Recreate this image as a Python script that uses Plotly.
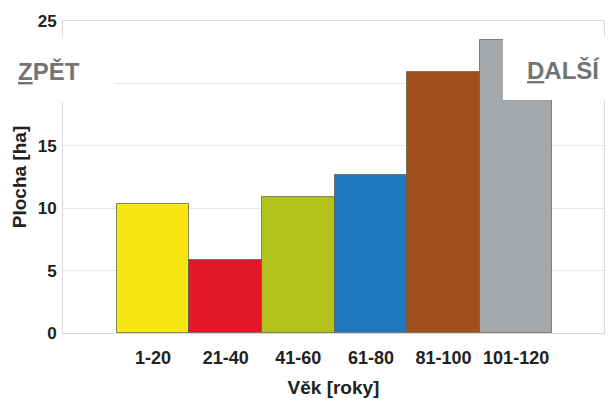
import plotly.graph_objects as go

categories = ["1-20", "21-40", "41-60", "61-80", "81-100", "101-120"]
values = [10.3, 5.85, 10.9, 12.7, 20.9, 23.5]
colors = ["#F7E614", "#E3172A", "#B3C21B", "#1D78BE", "#A24F1E", "#A5A8AB"]
y_ticks = [0, 5, 10, 15, 20, 25]
y_ticktext = ["0", "5", "10", "15", "", "25"]

FONT = "Liberation Sans, Arial, sans-serif"

fig = go.Figure()
fig.add_trace(go.Bar(
    x=categories, y=values,
    marker=dict(color=colors, line=dict(color="rgba(90,90,70,0.7)", width=1)),
    width=1.0,
))

fig.update_layout(
    width=608, height=401,
    margin=dict(l=63, r=4, t=21, b=68, autoexpand=False),
    paper_bgcolor="white", plot_bgcolor="white",
    bargap=0, showlegend=False,
    font=dict(family=FONT, color="#111111"),
    xaxis=dict(
        type="category", range=[-1.24, 6.21], automargin=False,
        tickfont=dict(size=18, family=FONT, weight="bold", color="#222222"),
        showgrid=False, zeroline=False,
        showline=True, linecolor="#d9d9d9", linewidth=1, mirror=True,
        ticks="", ticklabelstandoff=8,
        title=dict(text="<b>Věk [roky]</b>", font=dict(size=19, color="#222222"), standoff=14),
    ),
    yaxis=dict(
        range=[0, 25], tickvals=y_ticks, ticktext=y_ticktext, automargin=False,
        tickfont=dict(size=17, family=FONT, weight="bold", color="#222222"),
        showgrid=True, gridcolor="#e8e8e8", gridwidth=1,
        zeroline=False,
        showline=True, linecolor="#d9d9d9", linewidth=1, mirror=True,
        ticks="", ticklabelstandoff=2,
        title=dict(text="<b>Plocha [ha]</b>", font=dict(size=19, color="#222222"), standoff=6),
    ),
)

# navigation overlay buttons (white panels with text)
fig.add_shape(type="rect", xref="paper", yref="paper", layer="above",
              x0=-63/541, x1=(114-63)/541, y0=(333-102)/312, y1=(333-37)/312,
              fillcolor="white", line=dict(width=0))
fig.add_shape(type="rect", xref="paper", yref="paper", layer="above",
              x0=(503-63)/541, x1=1.01, y0=(333-100)/312, y1=(333-37)/312,
              fillcolor="white", line=dict(width=0))
fig.add_annotation(xref="paper", yref="paper", x=(16-63)/541, y=(333-71)/312,
                   xanchor="left", yanchor="middle", showarrow=False,
                   text="<b><u>Z</u>PĚT</b>", font=dict(size=24, color="#747474", family=FONT))
fig.add_annotation(xref="paper", yref="paper", x=(602-63)/541, y=(333-70)/312,
                   xanchor="right", yanchor="middle", showarrow=False,
                   text="<b><u>D</u>ALŠÍ</b>", font=dict(size=24, color="#747474", family=FONT))

fig.write_html("out.html", config={"displayModeBar": False},
               post_script="document.body.style.margin='0';")
